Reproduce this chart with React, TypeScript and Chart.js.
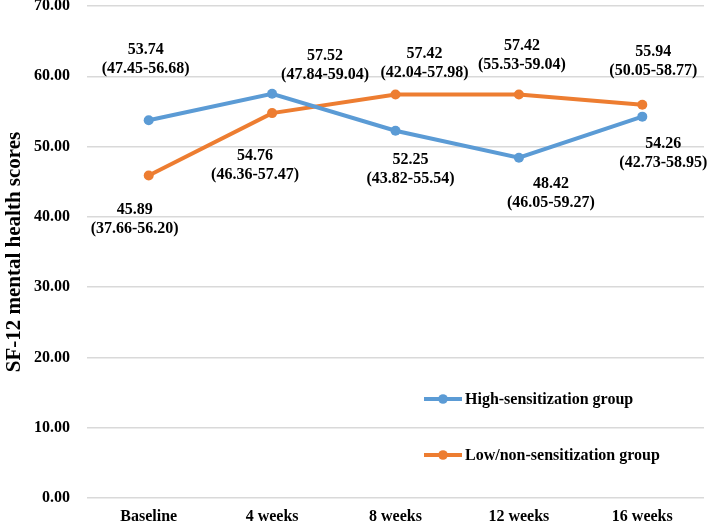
import React, { useEffect, useRef } from "react";
import { Chart, registerables } from "chart.js";

Chart.register(...registerables);

const categories = ["Baseline", "4 weeks", "8 weeks", "12 weeks", "16 weeks"];
const highLabel = "High-sensitization group";
const lowLabel = "Low/non-sensitization group";
const highValues = [53.74, 57.52, 52.25, 48.42, 54.26];
const highCI = ["(47.45-56.68)", "(47.84-59.04)", "(43.82-55.54)", "(46.05-59.27)", "(42.73-58.95)"];
const lowValues = [45.89, 54.76, 57.42, 57.42, 55.94];
const lowCI = ["(37.66-56.20)", "(46.36-57.47)", "(42.04-57.98)", "(55.53-59.04)", "(50.05-58.77)"];
const yTitle = "SF-12 mental health scores";

const BLUE = "#5B9BD5";
const ORANGE = "#ED7D31";
const FONT = "'Liberation Serif', 'Times New Roman', serif";

// label placement (pixel offsets of first text line centre from point)
const highLabelOffsets = [[-3, -70], [53, -38], [15, 29], [32, 26], [21, 27]];
const lowLabelOffsets = [[-14, 34], [-17, 43], [29, -41], [3, -49], [11, -53]];

const labelPlugin = {
  id: "pointLabels",
  afterDatasetsDraw(chart: any) {
    const ctx = chart.ctx;
    const sets = [
      { idx: 0, vals: highValues, ci: highCI, off: highLabelOffsets },
      { idx: 1, vals: lowValues, ci: lowCI, off: lowLabelOffsets },
    ];
    ctx.save();
    ctx.font = `bold 16px ${FONT}`;
    ctx.fillStyle = "#000";
    ctx.textAlign = "center";
    ctx.textBaseline = "middle";
    sets.forEach((s) => {
      const meta = chart.getDatasetMeta(s.idx);
      meta.data.forEach((pt: any, i: number) => {
        const x = pt.x + s.off[i][0];
        const y = pt.y + s.off[i][1];
        ctx.fillText(s.vals[i].toFixed(2), x, y);
        ctx.fillText(s.ci[i], x, y + 19);
      });
    });
    ctx.restore();
  },
};

const legendPlugin = {
  id: "customLegend",
  afterDraw(chart: any) {
    const ctx = chart.ctx;
    const items = chart.data.datasets;
    ctx.save();
    ctx.font = `bold 16px ${FONT}`;
    ctx.textBaseline = "middle";
    ctx.textAlign = "left";
    items.forEach((ds: any, i: number) => {
      const y = 399 + i * 56;
      const x0 = 424;
      ctx.strokeStyle = ds.borderColor;
      ctx.lineWidth = 4;
      ctx.beginPath();
      ctx.moveTo(x0, y);
      ctx.lineTo(x0 + 38, y);
      ctx.stroke();
      ctx.fillStyle = ds.borderColor;
      ctx.beginPath();
      ctx.arc(x0 + 19, y, 4.8, 0, Math.PI * 2);
      ctx.fill();
      ctx.fillStyle = "#000";
      ctx.fillText(ds.label, x0 + 41, y + 1);
    });
    ctx.restore();
  },
};

export default function App() {
  const ref = useRef<HTMLCanvasElement>(null);
  useEffect(() => {
    const chart = new Chart(ref.current as HTMLCanvasElement, {
      type: "line",
      data: {
        labels: categories,
        datasets: [
          {
            label: highLabel,
            data: highValues,
            borderColor: BLUE,
            backgroundColor: BLUE,
            borderWidth: 4,
            pointRadius: 5,
            pointBackgroundColor: BLUE,
            pointBorderWidth: 0,
            tension: 0,
          },
          {
            label: lowLabel,
            data: lowValues,
            borderColor: ORANGE,
            backgroundColor: ORANGE,
            borderWidth: 4,
            pointRadius: 5,
            pointBackgroundColor: ORANGE,
            pointBorderWidth: 0,
            tension: 0,
          },
        ],
      },
      options: {
        animation: false,
        responsive: false,
        maintainAspectRatio: false,
        layout: { padding: { top: 6, right: 5, left: 0, bottom: 0 } },
        plugins: {
          legend: { display: false },
          tooltip: { enabled: false },
        },
        scales: {
          x: {
            offset: true,
            grid: { display: false, drawTicks: false },
            border: { display: false },
            ticks: {
              color: "#000",
              font: { family: FONT, size: 16, weight: "bold" },
              padding: 9,
              maxRotation: 0,
            },
            afterFit(scale: any) {
              scale.height = 25;
              scale.paddingLeft = 0;
              scale.paddingRight = 0;
            },
          },
          y: {
            min: 0,
            max: 70,
            grid: { color: "#D9D9D9", lineWidth: 1.5, drawTicks: false },
            border: { display: false },
            ticks: {
              stepSize: 10,
              color: "#000",
              font: { family: FONT, size: 16, weight: "bold" },
              padding: 17,
              callback: (v: any) => Number(v).toFixed(2),
            },
            title: {
              display: true,
              text: yTitle,
              color: "#000",
              font: { family: FONT, size: 21, weight: "bold" },
              padding: { top: 2, bottom: 0 },
            },
            afterFit(scale: any) {
              scale.width = 87;
              scale.paddingTop = 0;
              scale.paddingBottom = 0;
            },
          },
        },
      },
      plugins: [labelPlugin, legendPlugin],
    });
    return () => chart.destroy();
  }, []);
  return (
    <div style={{ position: "fixed", left: 0, top: 0, width: 709, height: 523, background: "#fff" }}>
      <canvas ref={ref} width={709} height={523} style={{ width: 709, height: 523 }} />
    </div>
  );
}
